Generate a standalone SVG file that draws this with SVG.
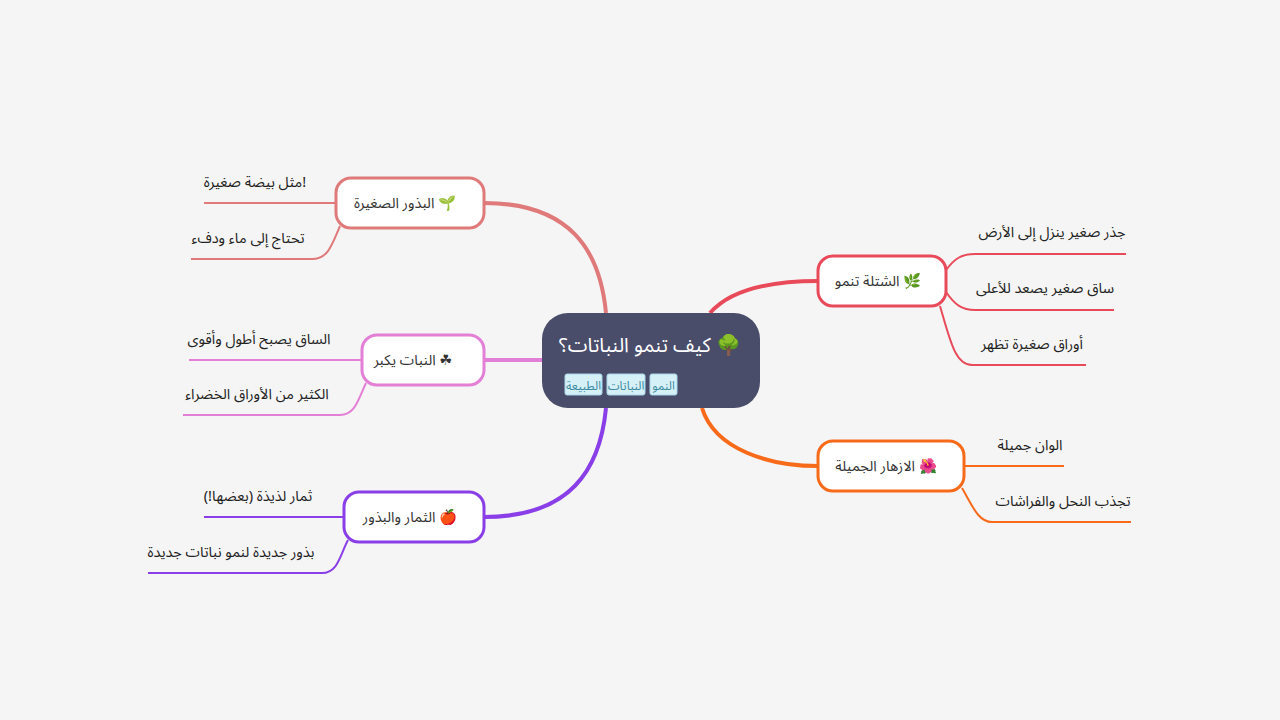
<svg xmlns="http://www.w3.org/2000/svg" width="1280" height="720" viewBox="0 0 1280 720">
<style>
text{font-family:"Noto Sans Arabic","Noto Sans","DejaVu Sans",sans-serif;direction:rtl;unicode-bidi:embed}
.n{fill:#fff;stroke-width:3}
.t{font-size:14.5px;fill:#333;text-anchor:middle}
.c{font-size:14.5px;fill:#222;text-anchor:middle}
.e{fill:none;stroke-width:2}
.b{fill:none;stroke-width:4}
.tag{fill:#d6f0f8;stroke:#a8d8e8;stroke-width:1}
.tt{font-size:12px;fill:#3a8aa0;text-anchor:middle}
</style>
<rect width="1280" height="720" fill="#f5f5f5"/>
<g id="connectors">
<path class="b" stroke="#e07a7a" d="M606,313 C600,250 570,203 484,203"/>
<path class="b" stroke="#e37fd6" d="M542,360 L484,360"/>
<path class="b" stroke="#8a3ee8" d="M606,408 C600,470 570,517 484,517"/>
<path class="b" stroke="#e84a5a" d="M710,313 C730,290 770,281 818,281"/>
<path class="b" stroke="#f76a1a" d="M702,408 C715,450 770,466 818,466"/>
<path class="e" stroke="#e07a7a" d="M336,203 L204,203"/>
<path class="e" stroke="#e07a7a" d="M340,226 C332,245 328,259 312,259 L191,259"/>
<path class="e" stroke="#e37fd6" d="M362,360 L189,360"/>
<path class="e" stroke="#e37fd6" d="M366,383 C358,400 355,415 340,415 L183,415"/>
<path class="e" stroke="#8a3ee8" d="M344,517 L204,517"/>
<path class="e" stroke="#8a3ee8" d="M348,540 C340,555 338,573 322,573 L148,573"/>
<path class="e" stroke="#e84a5a" d="M946,270 C955,258 962,254 975,254 L1126,254"/>
<path class="e" stroke="#e84a5a" d="M946,292 C955,305 962,310 975,310 L1114,310"/>
<path class="e" stroke="#e84a5a" d="M940,306 C950,340 955,365 972,365 L1086,365"/>
<path class="e" stroke="#f76a1a" d="M964,466 L1064,466"/>
<path class="e" stroke="#f76a1a" d="M962,488 C972,505 978,522 992,522 L1131,522"/>
</g>
<g id="center">
<rect x="542" y="313" width="218" height="95" rx="26" fill="#4a4d6a"/>
<text x="650" y="352" font-size="20" fill="#fff" text-anchor="middle">🌳 كيف تنمو النباتات؟</text>
<rect class="tag" x="650" y="374" width="27" height="21" rx="2"/>
<text class="tt" x="663.5" y="390">النمو</text>
<rect class="tag" x="607" y="374" width="38" height="21" rx="2"/>
<text class="tt" x="626" y="390">النباتات</text>
<rect class="tag" x="565" y="374" width="37" height="21" rx="2"/>
<text class="tt" x="583.5" y="390">الطبيعة</text>
</g>
<g id="n1"><rect class="n" stroke="#e07a7a" x="336" y="178" width="148" height="50" rx="15"/><text class="t" x="405" y="208">🌱 البذور الصغيرة</text></g>
<g id="n1a"><text class="c" x="255" y="187">!مثل بيضة صغيرة</text></g>
<g id="n1b"><text class="c" x="248" y="243">تحتاج إلى ماء ودفء</text></g>
<g id="n2"><rect class="n" stroke="#e37fd6" x="362" y="335" width="122" height="50" rx="15"/><text class="t" x="413" y="365">☘ النبات يكبر</text></g>
<g id="n2a"><text class="c" x="259" y="344">الساق يصبح أطول وأقوى</text></g>
<g id="n2b"><text class="c" x="257" y="399">الكثير من الأوراق الخضراء</text></g>
<g id="n3"><rect class="n" stroke="#8a3ee8" x="344" y="492" width="140" height="50" rx="15"/><text class="t" x="410" y="522">🍎 الثمار والبذور</text></g>
<g id="n3a"><text class="c" x="258" y="501">ثمار لذيذة (بعضها!)</text></g>
<g id="n3b"><text class="c" x="231" y="557">بذور جديدة لنمو نباتات جديدة</text></g>
<g id="n4"><rect class="n" stroke="#e84a5a" x="818" y="256" width="128" height="50" rx="15"/><text class="t" x="878" y="286">🌿 الشتلة تنمو</text></g>
<g id="n4a"><text class="c" x="1052" y="237">جذر صغير ينزل إلى الأرض</text></g>
<g id="n4b"><text class="c" x="1045" y="293">ساق صغير يصعد للأعلى</text></g>
<g id="n4c"><text class="c" x="1032" y="349">أوراق صغيرة تظهر</text></g>
<g id="n5"><rect class="n" stroke="#f76a1a" x="818" y="441" width="146" height="50" rx="15"/><text class="t" x="886" y="471">🌺 الازهار الجميلة</text></g>
<g id="n5a"><text class="c" x="1030" y="450">الوان جميلة</text></g>
<g id="n5b"><text class="c" x="1063" y="506">تجذب النحل والفراشات</text></g>
</svg>
